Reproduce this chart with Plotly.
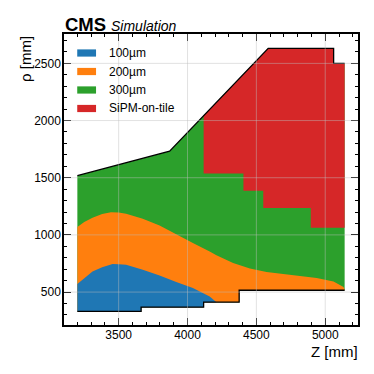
import numpy as np
import plotly.graph_objects as go

# ---- data (mm) ----
z_bottom = [3200, 3663, 3663, 4117, 4117, 4375, 4375, 5141]
rho_bottom = [331, 331, 368, 368, 412, 412, 516, 516]

z_top = [3200, 3870, 4586, 5061, 5061, 5141]
rho_top = [1518, 1732, 2632, 2632, 2500, 2500]

z_100 = [3200, 3230, 3262, 3310, 3380, 3420, 3456, 3500, 3554, 3675, 3797, 3918,
         4039, 4161, 4210]
rho_100 = [570, 600, 627, 680, 718, 735, 745, 744, 738, 695, 645, 587,
           535, 462, 412]

z_200 = [3200, 3250, 3310, 3380, 3444, 3500, 3554, 3675, 3797, 3918, 4039, 4161,
         4210, 4331, 4453, 4574, 4695, 4817, 4938, 5060, 5133, 5141]
rho_200 = [1069, 1112, 1151, 1183, 1197, 1195, 1185, 1141, 1083, 1010, 930, 855,
           822, 755, 706, 676, 657, 640, 622, 593, 544, 520]

z_sipm = [4117, 4406, 4406, 4550, 4550, 4895, 4895, 5141]
rho_sipm = [1538, 1538, 1386, 1386, 1235, 1235, 1063, 1063]

labels = ["100µm", "200µm", "300µm", "SiPM-on-tile"]
colors = ["#1f77b4", "#ff7f0e", "#2ca02c", "#d62728"]

x_ticks = [3500, 4000, 4500, 5000]
y_ticks = [500, 1000, 1500, 2000, 2500]

FONT = "Liberation Sans, Arial, sans-serif"

zb = np.array(z_bottom, float)
rb = np.array(rho_bottom, float)
zt = np.array(z_top, float)
rt = np.array(rho_top, float)


def bottom_back(zmax):
    """bottom boundary points with z <= zmax, reversed"""
    m = zb <= zmax
    return list(zb[m][::-1]), list(rb[m][::-1])


fig = go.Figure()

# 300um: full region
bz, br = bottom_back(zt[-1])
fig.add_trace(go.Scatter(x=list(zt) + bz, y=list(rt) + br, fill="toself",
                         fillcolor=colors[2], mode="lines", line=dict(width=0),
                         hoverinfo="skip", showlegend=False))
# 200um
bz, br = bottom_back(z_200[-1])
fig.add_trace(go.Scatter(x=z_200 + bz, y=rho_200 + br, fill="toself",
                         fillcolor=colors[1], mode="lines", line=dict(width=0),
                         hoverinfo="skip", showlegend=False))
# 100um
bz, br = bottom_back(z_100[-1])
fig.add_trace(go.Scatter(x=z_100 + [z_100[-1]] + bz, y=rho_100 + [rho_100[-1]] + br,
                         fill="toself", fillcolor=colors[0], mode="lines",
                         line=dict(width=0), hoverinfo="skip", showlegend=False))
# SiPM-on-tile
z0 = z_sipm[0]
r0 = float(np.interp(z0, zt, rt))
mt = zt > z0
red_x = [z0] + list(zt[mt]) + z_sipm[::-1]
red_y = [r0] + list(rt[mt]) + rho_sipm[::-1]
fig.add_trace(go.Scatter(x=red_x, y=red_y, fill="toself", fillcolor=colors[3],
                         mode="lines", line=dict(width=0), hoverinfo="skip",
                         showlegend=False))
# outline
fig.add_trace(go.Scatter(x=z_top, y=rho_top, mode="lines",
                         line=dict(color="black", width=1.3), hoverinfo="skip",
                         showlegend=False))
fig.add_trace(go.Scatter(x=z_bottom, y=rho_bottom, mode="lines",
                         line=dict(color="black", width=1.3), hoverinfo="skip",
                         showlegend=False))

shapes = []
gridc = "rgba(190,190,190,0.45)"
for xv in x_ticks:
    shapes.append(dict(type="line", xref="x", yref="paper", x0=xv, x1=xv, y0=0, y1=1,
                       line=dict(color=gridc, width=1), layer="above"))
for yv in y_ticks:
    shapes.append(dict(type="line", xref="paper", yref="y", x0=0, x1=1, y0=yv, y1=yv,
                       line=dict(color=gridc, width=1), layer="above"))

annotations = []
# manual legend
ycent = [0.9347, 0.8711, 0.8076, 0.744]
for lab, col, yc in zip(labels, colors, ycent):
    shapes.append(dict(type="rect", xref="paper", yref="paper", x0=0.045, x1=0.109,
                       y0=yc - 0.0124, y1=yc + 0.0124, fillcolor=col,
                       line=dict(width=0), layer="above"))
    annotations.append(dict(text=lab, xref="paper", yref="paper", x=0.1446, y=yc,
                            xanchor="left", yanchor="middle", showarrow=False,
                            font=dict(family=FONT, size=12, color="black")))

# header
annotations.append(dict(text="<b>CMS</b>", xref="paper", yref="paper", x=0.0,
                        xshift=-1, y=1, yanchor="bottom", xanchor="left",
                        showarrow=False, yshift=-3,
                        font=dict(family=FONT, size=18.5, color="black")))
annotations.append(dict(text="<i>Simulation</i>", xref="paper", yref="paper",
                        x=0.152, y=1, yanchor="bottom", xanchor="left",
                        showarrow=False, yshift=-1.5,
                        font=dict(family=FONT, size=14, color="black")))
# axis titles
annotations.append(dict(text="Z [mm]", xref="paper", yref="paper", x=1, y=0,
                        xanchor="right", yanchor="top", yshift=-16, xshift=2,
                        showarrow=False,
                        font=dict(family=FONT, size=15, color="black")))
annotations.append(dict(text="ρ [mm]", xref="paper", yref="paper", x=-0.133, y=1.0,
                        xanchor="center", yanchor="top", textangle=-90,
                        showarrow=False,
                        font=dict(family=FONT, size=15, color="black")))

axis_common = dict(showgrid=False, zeroline=False, showline=True, linecolor="black",
                   linewidth=1.5, mirror="allticks", ticks="inside", ticklen=7,
                   tickwidth=1, tickcolor="black",
                   tickfont=dict(family=FONT, size=12, color="black"),
                   minor=dict(ticks="inside", ticklen=3.5, dtick=100,
                              tickcolor="black", tickwidth=1, showgrid=False))

fig.update_layout(
    width=366, height=366,
    margin=dict(l=56, r=16, t=26, b=49),
    plot_bgcolor="white", paper_bgcolor="white",
    xaxis=dict(range=[3103, 5238], tickvals=x_ticks, ticklabelstandoff=-2,
               ticktext=[str(v) for v in x_ticks], **axis_common),
    yaxis=dict(range=[212, 2757], tickvals=y_ticks, ticklabelstandoff=-1,
               ticktext=[str(v) for v in y_ticks], **axis_common),
    shapes=shapes, annotations=annotations, showlegend=False,
)

fig.write_html("out.html")
